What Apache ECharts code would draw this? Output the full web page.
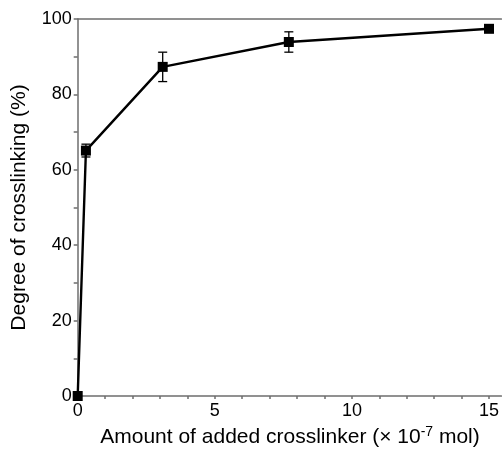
<!DOCTYPE html>
<html>
<head>
<meta charset="utf-8">
<script src="https://cdn.jsdelivr.net/npm/echarts@6/dist/echarts.min.js"></script>
<style>html,body{margin:0;padding:0;background:#fff}#c{width:502px;height:451px}</style>
</head>
<body>
<div id="c"></div>
<script>
// Data
const xValues = [0, 0.3, 3.1, 7.7, 15];
const yValues = [0, 65.1, 87.3, 93.9, 97.4];
const yErrors = [0, 1.7, 3.9, 2.7, 0];
const xTickValues = [0, 5, 10, 15];
const yTickValues = [0, 20, 40, 60, 80, 100];

const FONT = '"Liberation Sans", Arial, Helvetica, sans-serif';
const AXIS_COLOR = '#6e6e6e';

const points = xValues.map((x, i) => [x, yValues[i]]);
const errData = xValues.map((x, i) => [x, yValues[i] - yErrors[i], yValues[i] + yErrors[i]]).filter((d, i) => yErrors[i] > 0);

const chart = echarts.init(document.getElementById('c'), null, {renderer: 'canvas'});
chart.setOption({
  animation: false,
  grid: {left: 77.7, right: 0, top: 19, bottom: 55, containLabel: false},
  xAxis: [{
    type: 'value', min: 0, max: 15.45, interval: 5,
    axisLine: {show: true, lineStyle: {color: AXIS_COLOR, width: 1.5}},
    axisTick: {show: true, length: 3, lineStyle: {color: AXIS_COLOR, width: 1.5}, customValues: xTickValues},
    minorTick: {show: true, splitNumber: 5, length: 3, lineStyle: {color: AXIS_COLOR, width: 1.5}},
    axisLabel: {color: '#000', fontSize: 18, fontFamily: FONT, margin: 6,
      customValues: xTickValues},
    splitLine: {show: false}
  }, {
    type: 'value', position: 'top', min: 0, max: 15.45,
    axisLine: {show: true, lineStyle: {color: AXIS_COLOR, width: 1.5}},
    axisTick: {show: false}, axisLabel: {show: false}, splitLine: {show: false}
  }],
  yAxis: {
    type: 'value', min: 0, max: 100, interval: 20,
    axisLine: {show: true, lineStyle: {color: AXIS_COLOR, width: 1.5}},
    axisTick: {show: true, length: 4, lineStyle: {color: AXIS_COLOR, width: 1.5}},
    minorTick: {show: true, splitNumber: 2, length: 4, lineStyle: {color: AXIS_COLOR, width: 1.5}},
    axisLabel: {color: '#000', fontSize: 18, fontFamily: FONT, margin: 6, customValues: yTickValues},
    splitLine: {show: false}
  },
  series: [{
    type: 'custom',
    data: errData,
    z: 3,
    renderItem: function (params, api) {
      const x = api.value(0);
      const lo = api.coord([x, api.value(1)]);
      const hi = api.coord([x, api.value(2)]);
      const cap = 4.5;
      const st = {stroke: '#000', lineWidth: 1.3};
      return {type: 'group', children: [
        {type: 'line', shape: {x1: lo[0], y1: lo[1], x2: hi[0], y2: hi[1]}, style: st},
        {type: 'line', shape: {x1: lo[0] - cap, y1: lo[1], x2: lo[0] + cap, y2: lo[1]}, style: st},
        {type: 'line', shape: {x1: hi[0] - cap, y1: hi[1], x2: hi[0] + cap, y2: hi[1]}, style: st}
      ]};
    }
  }, {
    type: 'line',
    data: points,
    z: 4,
    symbol: 'rect', symbolSize: 10,
    showAllSymbol: true,
    lineStyle: {color: '#000', width: 2.4},
    itemStyle: {color: '#000', borderWidth: 0}
  }],
  graphic: [{
    type: 'text', x: 19, y: 207.5, rotation: Math.PI / 2,
    style: {text: 'Degree of crosslinking (%)', font: '21px ' + FONT, fill: '#000',
      textAlign: 'center', textVerticalAlign: 'middle'}
  }, {
    type: 'text', x: 290, y: 437,
    style: {text: 'Amount of added crosslinker (× 10{sup|-7} mol)', font: '21px ' + FONT, fill: '#000',
      textAlign: 'center', textVerticalAlign: 'middle',
      rich: {sup: {fontSize: 14, fontFamily: FONT, verticalAlign: 'top', padding: [0, 0, 9, 0]}}}
  }]
});
</script>
</body>
</html>
